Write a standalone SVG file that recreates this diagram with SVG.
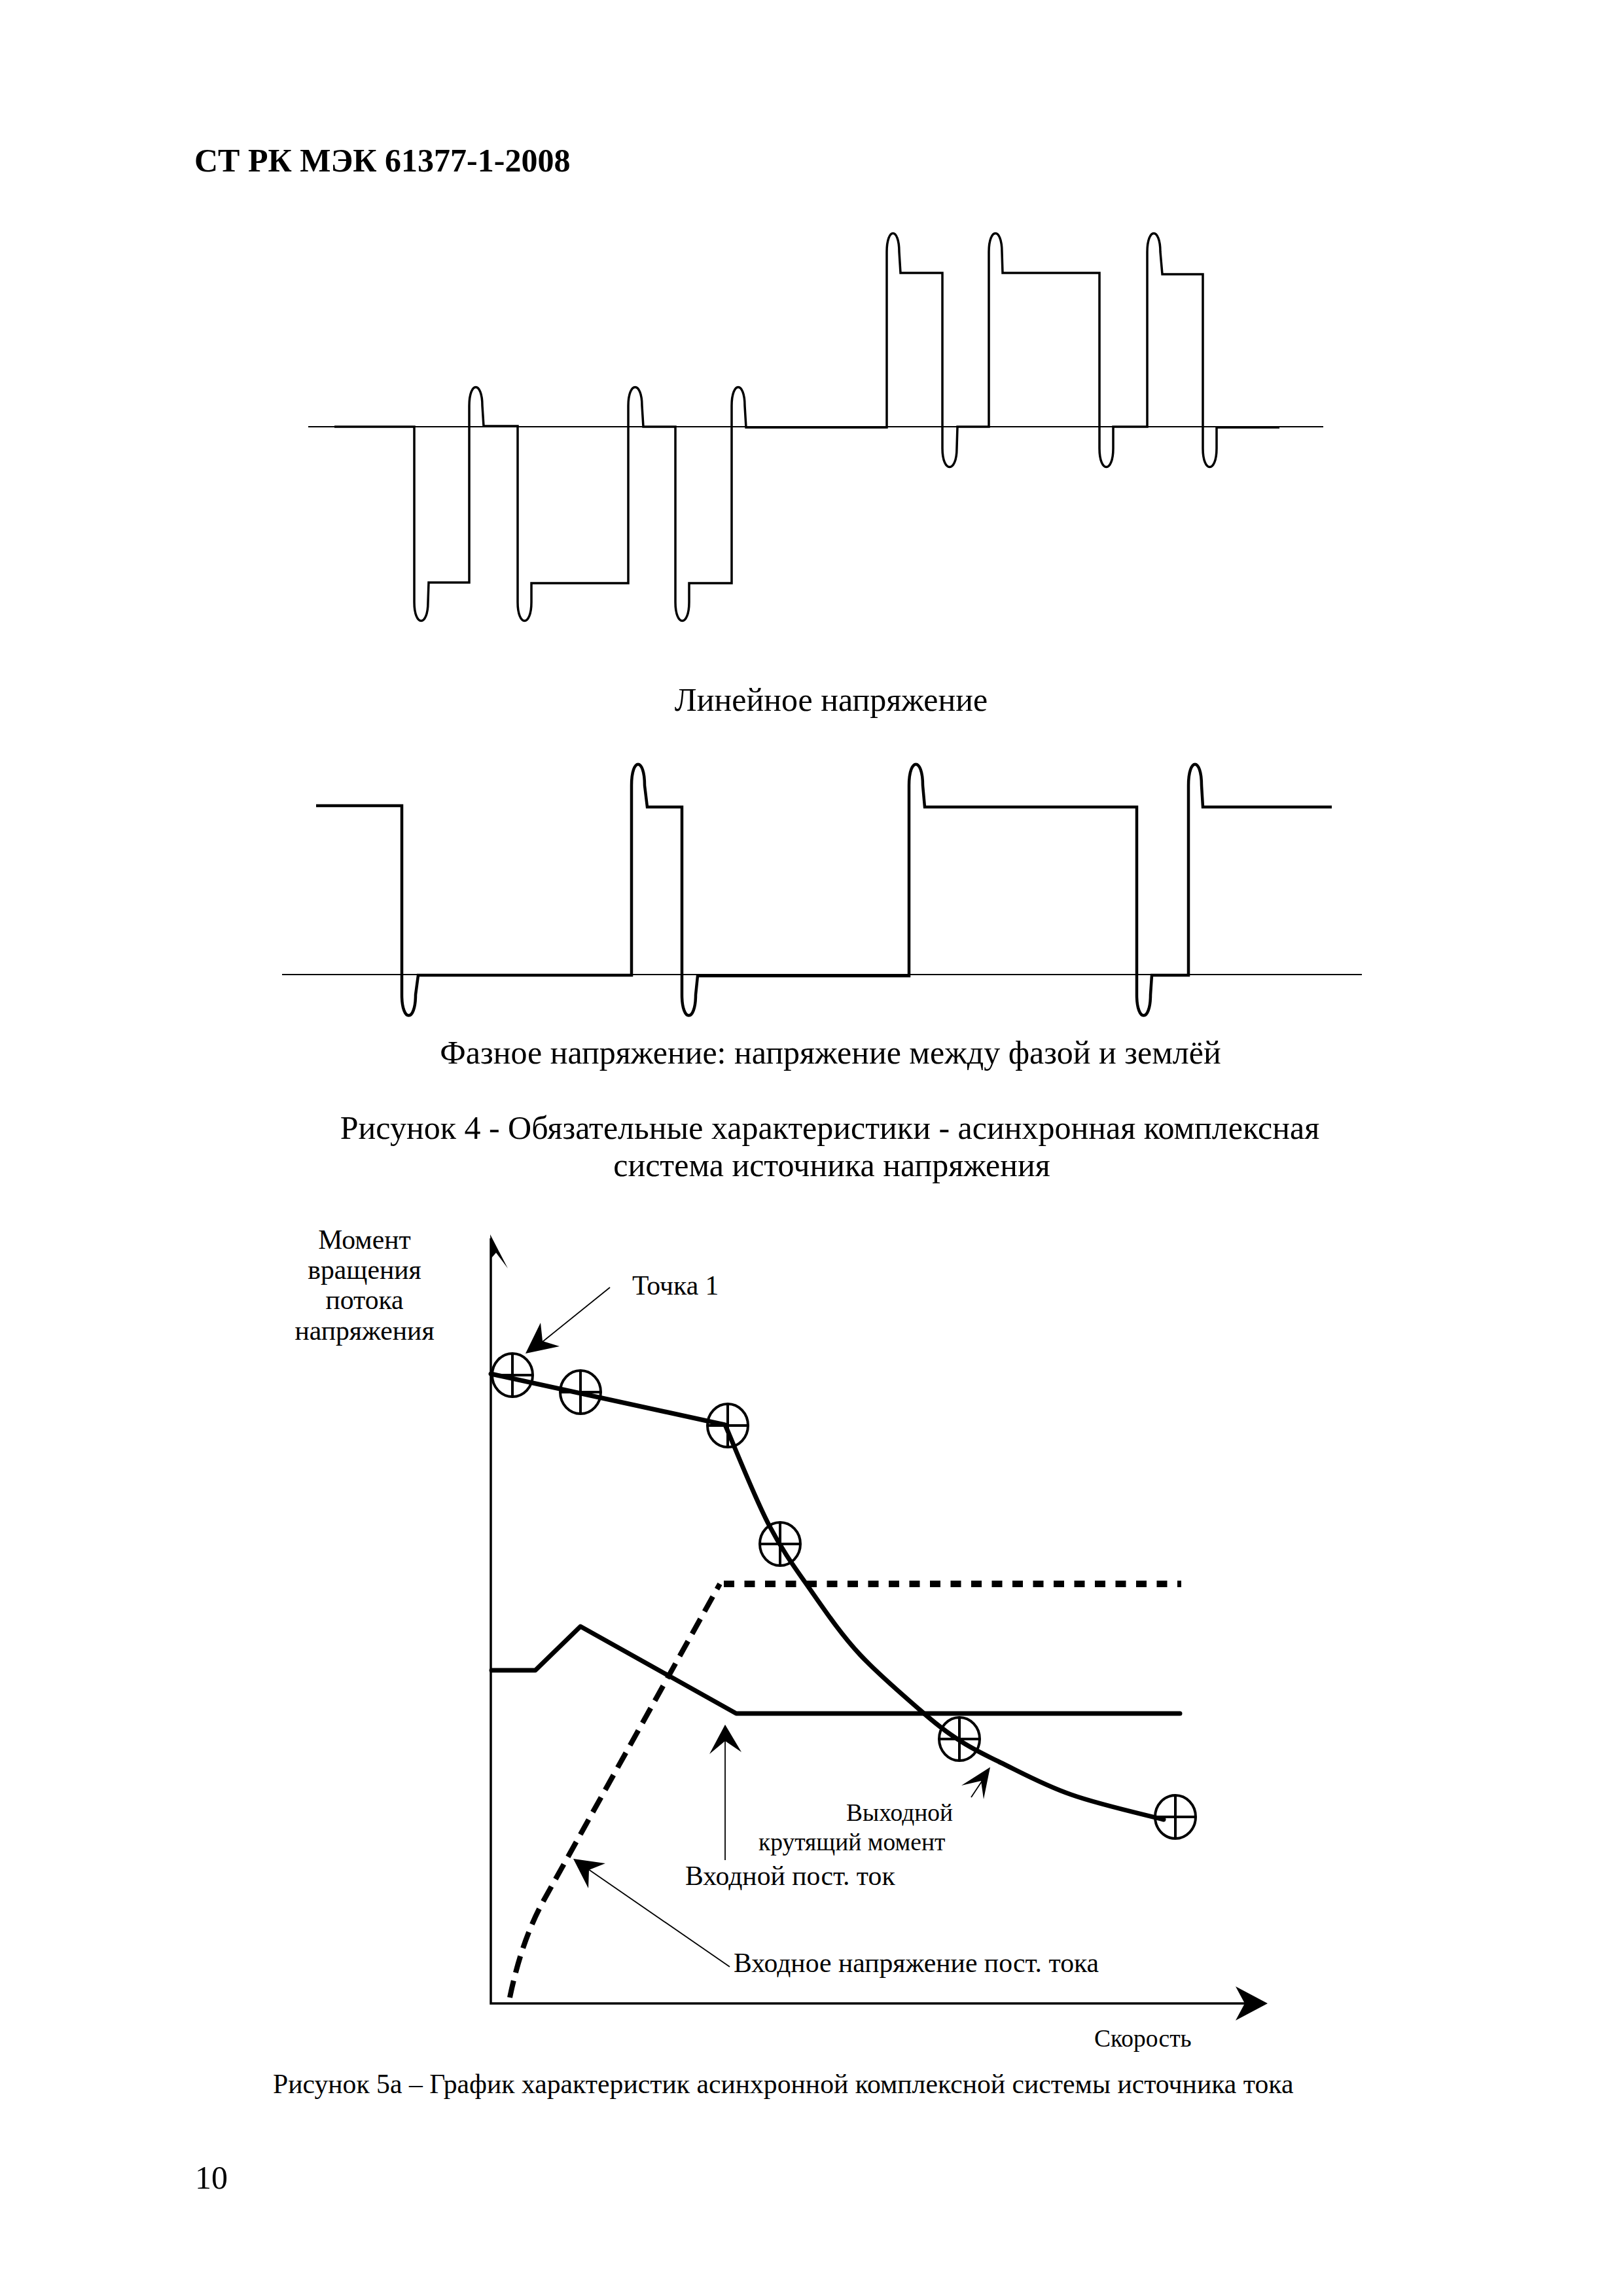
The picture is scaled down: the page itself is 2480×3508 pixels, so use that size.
<svg xmlns="http://www.w3.org/2000/svg" width="2480" height="3508" viewBox="0 0 2480 3508">
<style>
text{font-family:"Liberation Serif","Times New Roman",serif;fill:#000}
.t50{font-size:50px}
.t42{font-size:41.7px}
.t37{font-size:37.5px}
.hdr{font-size:50px;font-weight:bold}
.base{fill:none;stroke:#000;stroke-width:2}
.wave{fill:none;stroke:#000;stroke-width:3.5;stroke-linejoin:miter}
.wave2{fill:none;stroke:#000;stroke-width:4.5;stroke-linejoin:miter}
.axis{fill:none;stroke:#000;stroke-width:3.5}
.thick{fill:none;stroke:#000;stroke-width:7;stroke-linejoin:round;stroke-linecap:round}
.pt{fill:none;stroke:#000;stroke-width:4}
.lead{fill:none;stroke:#000;stroke-width:1.8}
.head{fill:#000;stroke:none}
</style>

<g id="header">
<text class="hdr" x="297" y="262">СТ РК МЭК 61377-1-2008</text>
</g>

<g id="line-voltage">
<path class="base" d="M471,652 H2022"/>
<path class="wave" d="M511,652 H633 V920 C633,958 654,958 654,920 L655,890 H717 V620 C717,582 737,582 737,620 L739,651 H791 V920 C791,958 812,958 812,920 L812,891 H960 V620 C960,582 981,582 981,620 L983,652 H1032 V920 C1032,958 1053,958 1053,920 L1053,891 H1118 V620 C1118,582 1138,582 1138,620 L1140,653 H1355 V385 C1355,347 1374,347 1374,385 L1376,417 H1440 V685 C1440,723 1462,723 1462,685 L1463,652 H1511 V385 C1511,347 1531,347 1531,385 L1532,417 H1680 V685 C1680,723 1701,723 1701,685 L1701,652 H1753 V385 C1753,347 1773,347 1773,385 L1776,419 H1838 V685 C1838,723 1859,723 1859,685 L1859,653 H1955"/>
<text class="t50" x="1270" y="1086" text-anchor="middle">Линейное напряжение</text>
</g>

<g id="phase-voltage">
<path class="base" d="M431,1489 H2081"/>
<path class="wave2" d="M483,1231 H614 V1520 C614,1562 635,1562 635,1520 L639,1490 H965 V1200 C965,1157 985,1157 985,1200 L989,1233 H1042 V1520 C1042,1562 1063,1562 1063,1520 L1066,1491 H1389 V1200 C1389,1157 1410,1157 1410,1200 L1413,1233 H1737 V1520 C1737,1562 1758,1562 1758,1520 L1760,1490 H1816 V1200 C1816,1157 1836,1157 1836,1200 L1838,1233 H2035"/>
<text class="t50" x="1269" y="1625" text-anchor="middle">Фазное напряжение: напряжение между фазой и землёй</text>
</g>

<g id="figure4-caption">
<text class="t50" x="1268" y="1740" text-anchor="middle">Рисунок 4 - Обязательные характеристики - асинхронная комплексная</text>
<text class="t50" x="1271" y="1797" text-anchor="middle">система источника напряжения</text>
</g>

<g id="axes">
<path class="axis" d="M750,1892 V3061 H1925"/>
<polygon class="head" points="749,1886 776,1938 758,1914 751,1922"/>
<polygon class="head" points="1888,3035 1937,3061 1888,3087 1902,3061"/>
<text class="t42" x="557" y="1908" text-anchor="middle">Момент</text>
<text class="t42" x="557" y="1954" text-anchor="middle">вращения</text>
<text class="t42" x="557" y="2000" text-anchor="middle">потока</text>
<text class="t42" x="557" y="2047" text-anchor="middle">напряжения</text>
<text class="t37" x="1672" y="3127">Скорость</text>
</g>

<g id="torque-curve">
<path class="thick" d="M750,2099 L1108,2177 C1119,2202 1153,2288 1175,2330 C1197,2372 1216,2397 1239,2430 C1262,2463 1286,2498 1314,2528 C1342,2558 1380,2590 1405,2612 C1430,2634 1445,2646 1466,2659 C1487,2673 1501,2679 1529,2693 C1558,2707 1596,2728 1637,2742 C1679,2757 1755,2774 1778,2780"/>
</g>

<g id="points">
<g id="p1"><ellipse class="pt" cx="783" cy="2101" rx="31" ry="33"/><path class="pt" d="M752,2101 H814 M783,2068 V2134"/></g>
<g id="p2"><ellipse class="pt" cx="887" cy="2127" rx="31" ry="33"/><path class="pt" d="M856,2127 H918 M887,2094 V2160"/></g>
<g id="p3"><ellipse class="pt" cx="1112" cy="2178" rx="31" ry="33"/><path class="pt" d="M1081,2178 H1143 M1112,2145 V2211"/></g>
<g id="p4"><ellipse class="pt" cx="1192" cy="2359" rx="31" ry="33"/><path class="pt" d="M1161,2359 H1223 M1192,2326 V2392"/></g>
<g id="p5"><ellipse class="pt" cx="1466" cy="2657" rx="31" ry="33"/><path class="pt" d="M1435,2657 H1497 M1466,2624 V2690"/></g>
<g id="p6"><ellipse class="pt" cx="1796" cy="2776" rx="31" ry="33"/><path class="pt" d="M1765,2776 H1827 M1796,2743 V2809"/></g>
</g>

<g id="dc-current">
<polyline class="thick" points="751,2552 818,2552 887,2485 1125,2618 1803,2618"/>
</g>

<g id="dc-voltage">
<path fill="none" stroke="#000" stroke-width="8" stroke-dasharray="26 13" d="M779,3052 Q797,2965 830,2905 L1100,2420"/>
<path fill="none" stroke="#000" stroke-width="10" stroke-dasharray="16 15.5" d="M1106,2420 H1805"/>
</g>

<g id="connectors">
<path class="lead" d="M932,1967 L829,2050"/>
<polygon class="head" points="803,2068 826,2021 829,2049 855,2057"/>
<path class="lead" d="M1108,2842 V2658"/>
<polygon class="head" points="1108,2635 1084,2680 1108,2660 1133,2677"/>
<path class="lead" d="M1484,2746 L1500,2722"/>
<polygon class="head" points="1513,2700 1469,2728 1499,2721 1503,2749"/>
<path class="lead" d="M1115,3005 L899,2856"/>
<polygon class="head" points="876,2840 925,2847 900,2857 899,2885"/>
</g>

<g id="labels">
<text class="t42" x="966" y="1978">Точка 1</text>
<text class="t37" x="1293" y="2782">Выходной</text>
<text class="t37" x="1159" y="2827">крутящий момент</text>
<text class="t42" x="1047" y="2880">Входной пост. ток</text>
<text class="t42" x="1121" y="3013">Входное напряжение пост. тока</text>
</g>

<g id="figure5a-caption">
<text class="t42" x="417" y="3198">Рисунок 5а – График характеристик асинхронной комплексной системы источника тока</text>
</g>

<g id="page-number">
<text class="t50" x="298" y="3344">10</text>
</g>
</svg>
